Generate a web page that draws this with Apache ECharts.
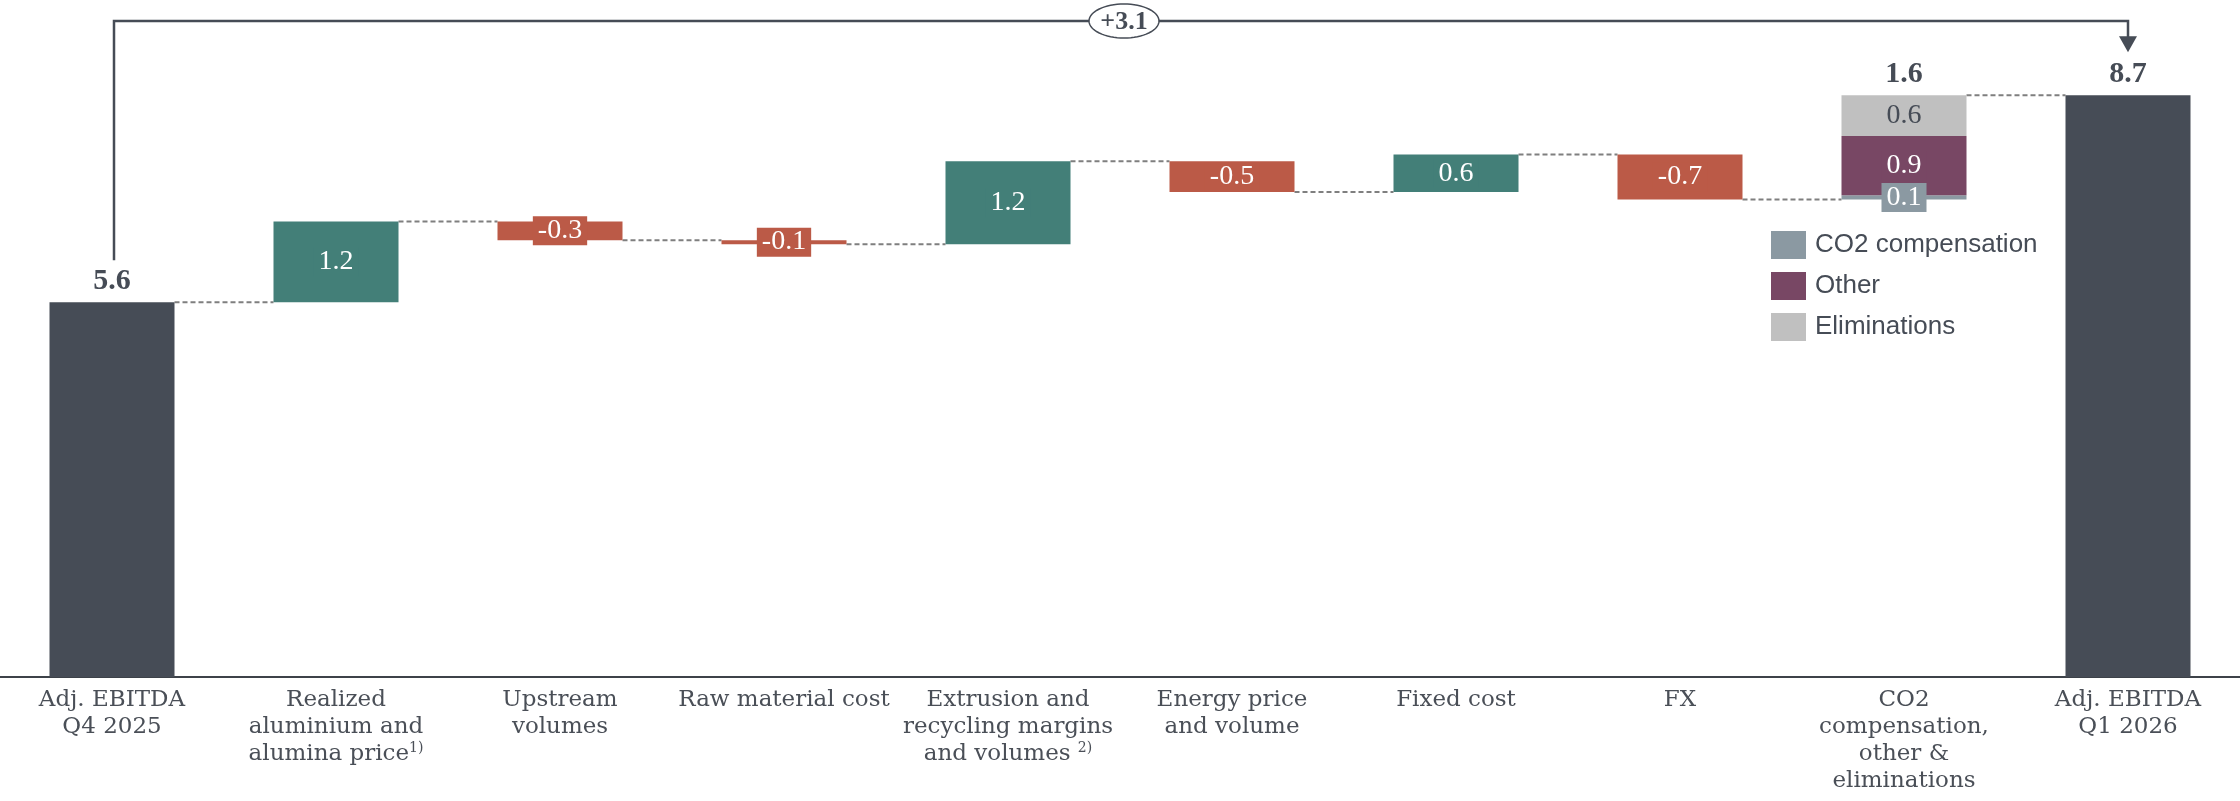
<!DOCTYPE html>
<html><head><meta charset="utf-8">
<script src="https://cdn.jsdelivr.net/npm/echarts@6/dist/echarts.min.js"></script>
<style>html,body{margin:0;padding:0;background:#fff}#c{width:2240px;height:801px}</style>
</head><body><div id="c"></div>
<script>
// ---------- data ----------
const categories = [
  'Adj. EBITDA\nQ4 2025',
  'Realized\naluminium and\nalumina price1)',
  'Upstream\nvolumes',
  'Raw material cost',
  'Extrusion and\nrecycling margins\nand volumes 2)',
  'Energy price\nand volume',
  'Fixed cost',
  'FX',
  'CO2\ncompensation,\nother &\neliminations',
  'Adj. EBITDA\nQ1 2026'
];
const startValue = 5.61;
const endValue = 8.71;
const deltas = [1.21, -0.28, -0.06, 1.24, -0.46, 0.56, -0.67]; // categories 1..7
const stackNames = ['CO2 compensation', 'Other', 'Eliminations'];
const stackValues = [0.06, 0.89, 0.61]; // category 8

// ---------- styles ----------
const DARK = '#464c56', GREEN = '#437f78', RED = '#bb5a47';
const STACK_COLORS = ['#8b99a2', '#784764', '#c0c0c0'];
const STACK_TEXT = ['#ffffff', '#ffffff', '#464c56'];
const NUM_FONT = 'Liberation Serif';
const CAT_FONT = 'DejaVu Serif';
const BAR_W = 125;

const N = categories.length;
const base = new Array(N).fill('-');
const bars = new Array(N).fill('-');
const levels = [];

function totalLabel(v) {
  return {show: true, position: 'top', distance: 7, formatter: v.toFixed(1),
    fontFamily: NUM_FONT, fontWeight: 'bold', fontSize: 30, lineHeight: 28, color: DARK};
}
function boxLabel(text, bg, color) {
  return {show: true, position: 'inside', formatter: text, color: color,
    backgroundColor: bg, padding: [3, 5, 2, 5], fontFamily: NUM_FONT,
    fontSize: 28, lineHeight: 24};
}

let cum = startValue;
base[0] = 0;
bars[0] = {value: startValue, itemStyle: {color: DARK}, label: totalLabel(startValue)};
levels.push(cum);
deltas.forEach((d, k) => {
  const i = k + 1;
  const col = d >= 0 ? GREEN : RED;
  base[i] = d >= 0 ? cum : cum + d;
  bars[i] = {value: Math.abs(d), itemStyle: {color: col}, label: boxLabel(d.toFixed(1), col, '#fff')};
  cum += d;
  levels.push(cum);
});
base[8] = cum;
const stackSum = stackValues.reduce((a, b) => a + b, 0);
levels.push(cum + stackSum);
base[9] = 0;
bars[9] = {value: endValue, itemStyle: {color: DARK}, label: totalLabel(endValue)};

const stackSeries = stackNames.map((name, j) => {
  const data = new Array(N).fill('-');
  data[8] = {value: stackValues[j], label: boxLabel(stackValues[j].toFixed(1), STACK_COLORS[j], STACK_TEXT[j])};
  return {name, type: 'bar', stack: 'wf', barWidth: BAR_W, data,
    itemStyle: {color: STACK_COLORS[j]}, emphasis: {disabled: true}, z: 3};
});
const stackTotal = new Array(N).fill('-');
stackTotal[8] = {value: 0, label: totalLabel(stackSum)};

const chart = echarts.init(document.getElementById('c'), null, {renderer: 'canvas'});
chart.setOption({
  animation: false,
  backgroundColor: '#fff',
  grid: {left: 0, right: 0, top: 9, bottom: 124, containLabel: false},
  legend: {
    data: stackNames, orient: 'vertical', left: 1771, top: 231, padding: 0,
    itemWidth: 35, itemHeight: 28, itemGap: 13, selectedMode: false, icon: 'rect',
    textStyle: {fontFamily: 'Liberation Sans', fontSize: 26, color: DARK, padding: [0, 0, 0, 4]}
  },
  xAxis: {
    type: 'category', data: categories,
    axisLine: {show: true, lineStyle: {color: '#3d4249', width: 2}},
    axisTick: {show: false},
    axisLabel: {
      interval: 0, margin: 10, color: '#4a4f57', fontFamily: CAT_FONT,
      fontSize: 23, lineHeight: 27,
      formatter: v => v.replace(/(\d\))$/, '{sup|$1}'),
      rich: {sup: {fontSize: 14, lineHeight: 14, verticalAlign: 'top',
        fontFamily: CAT_FONT, color: '#4a4f57'}}
    }
  },
  yAxis: {type: 'value', min: 0, max: 10, show: false, splitLine: {show: false}},
  series: [
    {type: 'bar', stack: 'wf', barWidth: BAR_W, data: base, silent: true,
      itemStyle: {color: 'rgba(0,0,0,0)'}, emphasis: {disabled: true}},
    {type: 'bar', stack: 'wf', barWidth: BAR_W, data: bars, emphasis: {disabled: true}, z: 3},
    ...stackSeries,
    {type: 'bar', stack: 'wf', barWidth: BAR_W, data: stackTotal, silent: true,
      itemStyle: {color: 'rgba(0,0,0,0)'}, emphasis: {disabled: true}, z: 3},
    {
      type: 'custom', coordinateSystem: 'cartesian2d', z: 1, silent: true,
      data: levels.map((v, i) => [i, v]), encode: {x: 0, y: 1},
      renderItem: (params, api) => {
        const i = api.value(0), v = api.value(1);
        const p0 = api.coord([i, v]), p1 = api.coord([i + 1, v]);
        return {type: 'line', shape: {x1: p0[0] + BAR_W / 2, y1: p0[1], x2: p1[0] - BAR_W / 2, y2: p1[1]},
          style: {stroke: '#7f7f7f', lineWidth: 2, lineDash: [5, 3]}};
      }
    },
    {
      type: 'custom', coordinateSystem: 'cartesian2d', z: 5, silent: true, clip: false,
      data: [[0, startValue, N - 1, endValue]], encode: {x: [0, 2], y: [1, 3]},
      renderItem: (params, api) => {
        const a = api.coord([api.value(0), api.value(1)]);
        const b = api.coord([api.value(2), api.value(3)]);
        const top = api.coord([0, 10])[1] + 12;
        const x0 = a[0] + 2, x1 = b[0];
        const cx = (x0 + x1) / 2 + 3, rx = 35, ry = 17;
        const pts = [];
        for (let k = 0; k < 64; k++) {
          const t = k / 64 * Math.PI * 2;
          pts.push([cx + rx * Math.cos(t), top + ry * Math.sin(t)]);
        }
        const diff = api.value(3) - api.value(1);
        return {type: 'group', children: [
          {type: 'polyline', shape: {points: [[x0, a[1] - 42], [x0, top], [x1, top], [x1, b[1] - 56]]},
            style: {stroke: DARK, lineWidth: 2.5, fill: null}},
          {type: 'polygon', shape: {points: [[x1 - 9, b[1] - 59], [x1 + 9, b[1] - 59], [x1, b[1] - 43]]},
            style: {fill: DARK}},
          {type: 'polygon', shape: {points: pts}, style: {fill: '#fff', stroke: DARK, lineWidth: 1.5}},
          {type: 'text', style: {text: (diff >= 0 ? '+' : '') + diff.toFixed(1), x: cx, y: top + 1,
            align: 'center', verticalAlign: 'middle', fontFamily: NUM_FONT, fontWeight: 'bold',
            fontSize: 26, fill: DARK}}
        ]};
      }
    }
  ]
});
</script></body></html>
